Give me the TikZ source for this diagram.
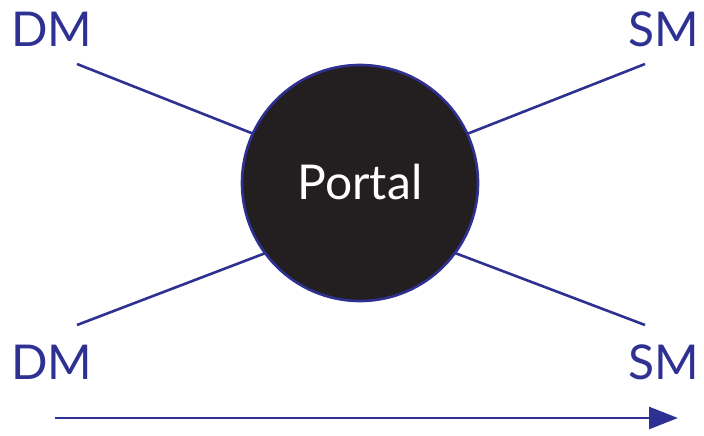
\documentclass[tikz,border=0pt]{standalone}
\usepackage{fontspec}
\setmainfont{Lato}
\usetikzlibrary{arrows.meta,backgrounds}
\definecolor{navy}{HTML}{2E3192}
\definecolor{portalfill}{HTML}{231F20}
\begin{document}
\begin{tikzpicture}[x=1pt,y=-1pt,
  lbl/.style={font=\fontsize{48}{48}\selectfont, text=navy, anchor=base, inner sep=0pt},
  conn/.style={draw=navy, line width=2.6pt},
  hub/.style={circle, draw=navy, line width=2.6pt, fill=portalfill, minimum size=236pt, inner sep=0pt},
  hubtext/.style={font=\fontsize{48}{48}\selectfont, text=white, anchor=base, inner sep=0pt}]
\useasboundingbox (0,0) rectangle (704,436);
\node[hub] (portal) at (360,183) {};
\node[hubtext] (ptxt) at (360,199) {Portal};
\node[lbl] (dm1) at (52,47) {DM};
\node[lbl] (sm1) at (664,47) {SM};
\node[lbl] (dm2) at (52,379) {DM};
\node[lbl] (sm2) at (664,379) {SM};
\coordinate (a1) at (77,64);
\coordinate (a2) at (645,64);
\coordinate (a3) at (77,325);
\coordinate (a4) at (645,325);
\coordinate (aimhigh) at (360,176);
\coordinate (aimlow) at (360,217);
\begin{scope}[on background layer]
\draw[conn] (a1) -- (aimhigh);
\draw[conn] (a2) -- (aimhigh);
\draw[conn] (a3) -- (aimlow);
\draw[conn] (a4) -- (aimlow);
\end{scope}
\coordinate (s) at (55,418);
\coordinate (e) at (678,418);
\draw[conn, -{Triangle[length=29pt,width=22pt]}] (s) -- (e);
\end{tikzpicture}
\end{document}
